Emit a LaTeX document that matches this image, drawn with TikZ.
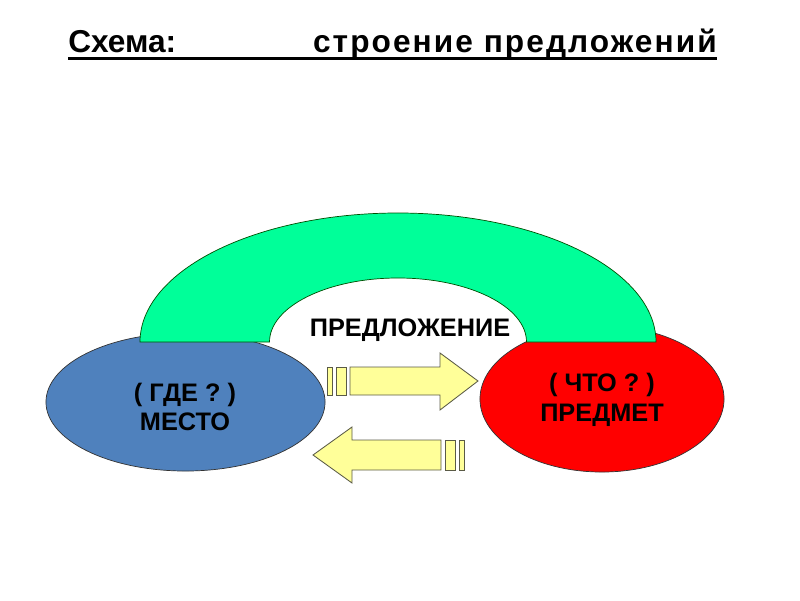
\documentclass[tikz,border=0pt]{standalone}
\usepackage{fontspec}
\setmainfont{Liberation Sans}
\usetikzlibrary{positioning,calc,shapes.geometric}

\definecolor{placeblue}{RGB}{79,129,189}
\definecolor{thingred}{RGB}{255,0,0}
\definecolor{archgreen}{RGB}{0,255,153}
\definecolor{arrowyellow}{RGB}{255,255,153}
\definecolor{arrowedge}{RGB}{90,90,70}

\begin{document}
\begin{tikzpicture}[
  x=0.025cm, y=0.025cm,
  font=\bfseries\fontsize{18}{21}\selectfont,
  blob/.style={ellipse, draw=black!80, line width=0.5pt, align=center, inner sep=0pt},
  arch/.style={draw=black!70!green, line width=0.5pt, fill=archgreen},
  blockarrow/.style={draw=arrowedge, line width=0.6pt, fill=arrowyellow},
  ttl/.style={font=\bfseries\fontsize{22.5}{26}\selectfont, inner sep=0pt}
]
% Frame: 800 x 600 px, origin at bottom left
\useasboundingbox (0,0) rectangle (800,600);

% Title with one long underline
\node[ttl, anchor=base west] (schema) at (68,547) {Схема:};
\node[ttl, anchor=base east] (stroenie) at (717,547)
  {\addfontfeature{LetterSpace=6.5}строение предложений};
\draw[line width=2.2pt] ($(schema.base west)+(0,-5.5)$) -- ($(stroenie.base east)+(0,-5.5)$);

% The two ellipses
\node[blob, fill=placeblue, minimum width=6.975cm, minimum height=3.45cm] (mesto) at (185.5,198) {};
\node[blob, fill=thingred, minimum width=6.1cm, minimum height=3.65cm] (predmet) at (602,201) {};

% Arch over both ellipses
\draw[arch] (140,258) arc[start angle=180, end angle=0, x radius=258, y radius=129]
  -- (526.5,258) arc[start angle=0, end angle=180, x radius=128.5, y radius=64] -- cycle;

% Labels
\node[align=center] (gde) at (185,193) {( ГДЕ ? )\\МЕСТО};
\node[align=center] (chto) at (602,200) {( ЧТО ? )\\ПРЕДМЕТ};
\node (predl) at (410,270) {ПРЕДЛОЖЕНИЕ};

% Right block arrow (to the red ellipse)
\draw[blockarrow] (327,205) rectangle (332,233);
\draw[blockarrow] (336,205) rectangle (346,233);
\draw[blockarrow] (350,205) -- (440,205) -- (440,190) -- (478,219)
  -- (440,247) -- (440,233) -- (350,233) -- cycle;

% Left block arrow (to the blue ellipse)
\draw[blockarrow] (445,130) rectangle (455,160);
\draw[blockarrow] (459,130) rectangle (464,160);
\draw[blockarrow] (441,130) -- (352,130) -- (352,117) -- (313,145)
  -- (352,173) -- (352,160) -- (441,160) -- cycle;

\end{tikzpicture}
\end{document}
